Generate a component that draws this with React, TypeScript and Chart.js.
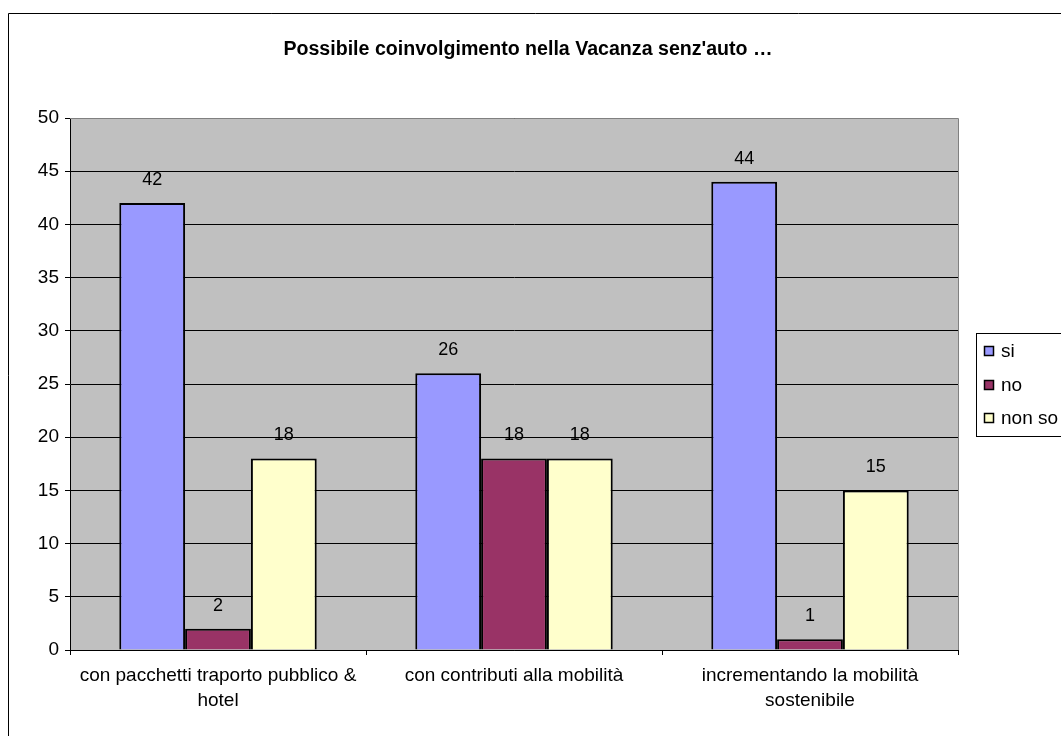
import React, { useEffect, useRef } from "react";
import { Chart, registerables } from "chart.js";

Chart.register(...registerables);

const categories: string[][] = [
  ["con pacchetti traporto pubblico &", "hotel"],
  ["con contributi alla mobilità"],
  ["incrementando la mobilità", "sostenibile"],
];
const seriesNames = ["si", "no", "non so"];
const siValues = [42, 26, 44];
const noValues = [2, 18, 1];
const nonSoValues = [18, 18, 15];
const seriesColors = ["#9999FF", "#993366", "#FFFFCC"];
const titleText = "Possibile coinvolgimento nella Vacanza senz'auto …";

const FONT = "'Liberation Sans', Arial, sans-serif";

const decorPlugin = {
  id: "decor",
  beforeDraw(chart: any) {
    const { ctx, chartArea } = chart;
    ctx.save();
    ctx.fillStyle = "#FFFFFF";
    ctx.fillRect(0, 0, chart.width, chart.height);
    ctx.strokeStyle = "#000000";
    ctx.lineWidth = 1;
    ctx.beginPath();
    ctx.moveTo(8.5, chart.height + 2);
    ctx.lineTo(8.5, 13.5);
    ctx.lineTo(chart.width + 2, 13.5);
    ctx.stroke();
    ctx.fillStyle = "#C0C0C0";
    ctx.fillRect(chartArea.left, chartArea.top, chartArea.right - chartArea.left, chartArea.bottom - chartArea.top);
    ctx.restore();
  },
  afterDatasetsDraw(chart: any) {
    const { ctx, chartArea } = chart;
    ctx.save();
    ctx.strokeStyle = "#808080";
    ctx.lineWidth = 1;
    ctx.beginPath();
    ctx.moveTo(chartArea.left, Math.round(chartArea.top) + 0.5);
    ctx.lineTo(Math.round(chartArea.right) + 0.5, Math.round(chartArea.top) + 0.5);
    ctx.lineTo(Math.round(chartArea.right) + 0.5, chartArea.bottom);
    ctx.stroke();
    ctx.fillStyle = "#000000";
    ctx.font = `18px ${FONT}`;
    ctx.textAlign = "center";
    ctx.textBaseline = "middle";
    chart.data.datasets.forEach((ds: any, i: number) => {
      const meta = chart.getDatasetMeta(i);
      meta.data.forEach((bar: any, j: number) => {
        ctx.fillText(String(ds.data[j]), bar.x, bar.y - 23);
      });
    });
    ctx.font = `bold 19.6px ${FONT}`;
    ctx.fillText(titleText, 528, 50);
    const lx = 976.5, ly = 333.5, lw = 100, lh = 103;
    ctx.fillStyle = "#FFFFFF";
    ctx.fillRect(lx, ly, lw, lh);
    ctx.strokeStyle = "#000000";
    ctx.strokeRect(lx, ly, lw, lh);
    const ys = [351, 385, 418];
    seriesNames.forEach((name, i) => {
      ctx.fillStyle = seriesColors[i];
      ctx.fillRect(984.5, ys[i] - 4.5, 9, 9);
      ctx.strokeStyle = "#000000";
      ctx.lineWidth = 1.5;
      ctx.strokeRect(984.5, ys[i] - 4.5, 9, 9);
      ctx.fillStyle = "#000000";
      ctx.font = `19px ${FONT}`;
      ctx.textAlign = "left";
      ctx.textBaseline = "middle";
      ctx.fillText(name, 1001, ys[i] + 1);
    });
    ctx.restore();
  },
};

export default function App() {
  const ref = useRef<HTMLCanvasElement>(null);
  useEffect(() => {
    document.body.style.margin = "0";
    const c = ref.current!;
    const mk = (i: number, data: number[]) => ({
      label: seriesNames[i], data, backgroundColor: seriesColors[i], borderColor: "#000", borderWidth: 2,
    });
    const chart = new Chart(c, {
      type: "bar",
      data: {
        labels: categories,
        datasets: [mk(0, siValues), mk(1, noValues), mk(2, nonSoValues)],
      },
      options: {
        animation: false,
        responsive: false,
        devicePixelRatio: 1,
        layout: { padding: { left: 0, right: 103, top: 118, bottom: 0 } },
        datasets: { bar: { categoryPercentage: 0.667, barPercentage: 1 } },
        plugins: { legend: { display: false }, tooltip: { enabled: false }, title: { display: false } },
        scales: {
          x: {
            afterFit: (s: any) => { s.height = 86; },
            grid: { display: true, drawOnChartArea: false, tickLength: 5, color: "#000", offset: true },
            border: { color: "#000" },
            ticks: { color: "#000", font: { family: FONT, size: 19, lineHeight: 1.28 }, padding: 9, maxRotation: 0, autoSkip: false },
          },
          y: {
            min: 0,
            max: 50,
            afterFit: (s: any) => { s.width = 70; },
            grid: { color: "#000", tickLength: 5, lineWidth: 1 },
            border: { color: "#000" },
            ticks: { stepSize: 5, color: "#000", font: { family: FONT, size: 19 }, padding: 6 },
          },
        },
      },
      plugins: [decorPlugin],
    });
    return () => chart.destroy();
  }, []);
  return (
    <div style={{ position: "absolute", left: 0, top: 0, width: 1061, height: 736 }}>
      <canvas ref={ref} width={1061} height={736} style={{ width: 1061, height: 736, display: "block" }} />
    </div>
  );
}
